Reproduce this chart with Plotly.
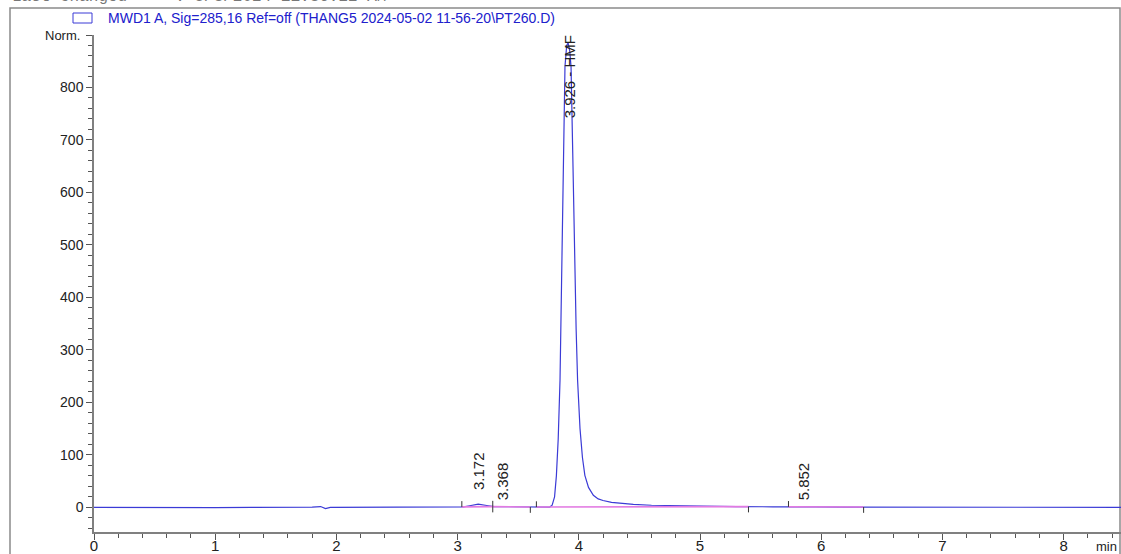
import plotly.graph_objects as go

# ---- data ----
time_min = [0.00, 0.30, 0.60, 1.00, 1.30, 1.60, 1.80, 1.87, 1.91, 1.95, 2.20, 2.60, 3.00, 3.05,
            3.10, 3.17, 3.24, 3.30, 3.37, 3.45, 3.60, 3.70, 3.76, 3.78, 3.80, 3.815, 3.83,
            3.845, 3.858, 3.87, 3.886, 3.90, 3.912, 3.925, 3.936, 3.95, 3.965, 3.978, 3.99,
            4.01, 4.03, 4.05, 4.08, 4.12, 4.16, 4.20, 4.27, 4.34, 4.45, 4.60, 4.80, 5.00,
            5.30, 5.60, 5.75, 5.85, 5.95, 6.20, 6.50, 7.00, 8.00, 8.50]
signal = [0.0, -0.5, -0.5, -0.5, 0.0, 0.0, 0.3, 1.5, -2.5, 0.0, 0.0, 0.3, 0.5, 0.8,
          3.0, 6.0, 3.5, 1.5, 1.2, 0.8, 0.5, 0.5, 0.5, 4.0, 20.0, 60.0, 130.0,
          242.0, 440.0, 675.0, 840.0, 880.0, 885.0, 870.0, 840.0, 675.0, 480.0, 340.0, 242.0,
          150.0, 95.0, 61.0, 38.0, 23.0, 16.0, 13.0, 9.5, 7.5, 5.5, 4.0, 3.0, 2.0,
          1.5, 1.0, 1.0, 2.0, 1.0, 0.5, 0.3, 0.0, 0.0, 0.0]

# integration baseline segments (start, end, start value, end value)
base_start = [3.035, 3.29, 3.65, 5.73]
base_end = [3.29, 3.60, 5.40, 6.35]
base_y0 = [0.8, 1.4, 0.5, 1.0]
base_y1 = [1.4, 0.5, 1.4, 0.5]
tick_len = 11  # signal units for baseline event ticks

peak_rt = [3.172, 3.368, 3.926, 5.852]
peak_text = ["3.172", "3.368", "3.926 - HMF", "5.852"]
label_base = [30, 10, 738, 10]

x_ticks = [0, 1, 2, 3, 4, 5, 6, 7, 8]
y_ticks = [0, 100, 200, 300, 400, 500, 600, 700, 800]

legend_text = "MWD1 A, Sig=285,16 Ref=off (THANG5 2024-05-02 11-56-20\\PT260.D)"
header_text = "Last changed     : 5/3/2024 11:36:22 AM"

W, H = 1121, 554
ML, MR, MT, MB = 94, 0, 35, 22
XR = [0, (W - ML - MR) / 121.2]
YR = [-47, 900]

FONT = "Arial, Liberation Sans, sans-serif"
BLUE = "#3b3bd6"
PINK = "#e27ae2"

fig = go.Figure()
fig.add_trace(go.Scatter(x=time_min, y=signal, mode="lines",
                         line=dict(color=BLUE, width=1.2), showlegend=False,
                         hoverinfo="skip"))

# baseline segments
bx, by = [], []
for s, e, a, b in zip(base_start, base_end, base_y0, base_y1):
    bx += [s, e, None]
    by += [a, b, None]
fig.add_trace(go.Scatter(x=bx, y=by, mode="lines", line=dict(color=PINK, width=1.6),
                         showlegend=False, hoverinfo="skip"))

# baseline event ticks: up tick at start, down tick at end
tx, ty = [], []
for s, a in zip(base_start, base_y0):
    tx += [s, s, None]
    ty += [a, a + tick_len, None]
for e, b in zip(base_end, base_y1):
    tx += [e, e, None]
    ty += [b, b - tick_len, None]
fig.add_trace(go.Scatter(x=tx, y=ty, mode="lines", line=dict(color="#333333", width=1),
                         showlegend=False, hoverinfo="skip"))

for rt, txt, yb in zip(peak_rt, peak_text, label_base):
    fig.add_annotation(x=rt, y=yb, text=txt, textangle=-90, showarrow=False,
                       xanchor="center", yanchor="bottom",
                       font=dict(family=FONT, size=15, color="#222222"))

# "Norm." label at top tick
fig.add_annotation(xref="paper", x=0, y=900, text="Norm.", showarrow=False,
                   xanchor="right", yanchor="middle", xshift=-12,
                   font=dict(family=FONT, size=13, color="#222222"))
# "min" unit label
fig.add_annotation(xref="paper", yref="paper", x=1, y=0, yshift=-14, xshift=-2,
                   text="min", showarrow=False, xanchor="right", yanchor="middle",
                   font=dict(family=FONT, size=13, color="#222222"))

pw = W - ML - MR
ph = H - MT - MB
def px(xp):
    return (xp - ML) / pw
def py(yp):
    return (H - MB - yp) / ph

# outer frame
fig.add_shape(type="rect", xref="paper", yref="paper",
              x0=px(10), x1=px(1120), y0=py(560), y1=py(8),
              line=dict(color="#8a8a8a", width=1.5), layer="below")
# legend box
fig.add_shape(type="rect", xref="paper", yref="paper",
              x0=px(73), x1=px(92), y0=py(23), y1=py(13),
              line=dict(color=BLUE, width=1))
fig.add_annotation(xref="paper", yref="paper", x=px(106), y=py(18), text=legend_text,
                   showarrow=False, xanchor="left", yanchor="middle",
                   font=dict(family=FONT, size=14, color="#2020cc"))
# clipped header text
fig.add_annotation(xref="paper", yref="paper", x=px(10), y=py(-3), text=header_text,
                   showarrow=False, xanchor="left", yanchor="middle",
                   font=dict(family="Liberation Mono, monospace", size=16, color="#777777"))

axis_col = "#808080"
fig.update_xaxes(range=XR, showgrid=False, zeroline=False, showline=True, automargin=False,
                 linecolor=axis_col, linewidth=1.5, ticks="outside", ticklen=6,
                 tickcolor="#555555", tickwidth=1, tickvals=x_ticks,
                 ticktext=[str(v) for v in x_ticks], ticklabelstandoff=-7,
                 tickfont=dict(family=FONT, size=15, color="#222222"),
                 minor=dict(dtick=0.2, ticks="outside", ticklen=4, tickcolor="#555555"))
fig.update_yaxes(range=YR, showgrid=False, zeroline=False, showline=True, automargin=False,
                 linecolor=axis_col, linewidth=1.5, ticks="outside", ticklen=6,
                 tickcolor="#555555", tickwidth=1, tickvals=y_ticks + [900],
                 ticktext=[str(v) for v in y_ticks] + [""],
                 tickfont=dict(family=FONT, size=14, color="#222222"),
                 minor=dict(dtick=20, tick0=0, ticks="outside", ticklen=4, tickcolor="#555555"))

fig.update_layout(width=W, height=H, margin=dict(l=ML, r=MR, t=MT, b=MB, autoexpand=False),
                  plot_bgcolor="white", paper_bgcolor="white", showlegend=False)

fig.write_html("out.html", config={"displayModeBar": False},
               post_script="document.body.style.margin='0';")
